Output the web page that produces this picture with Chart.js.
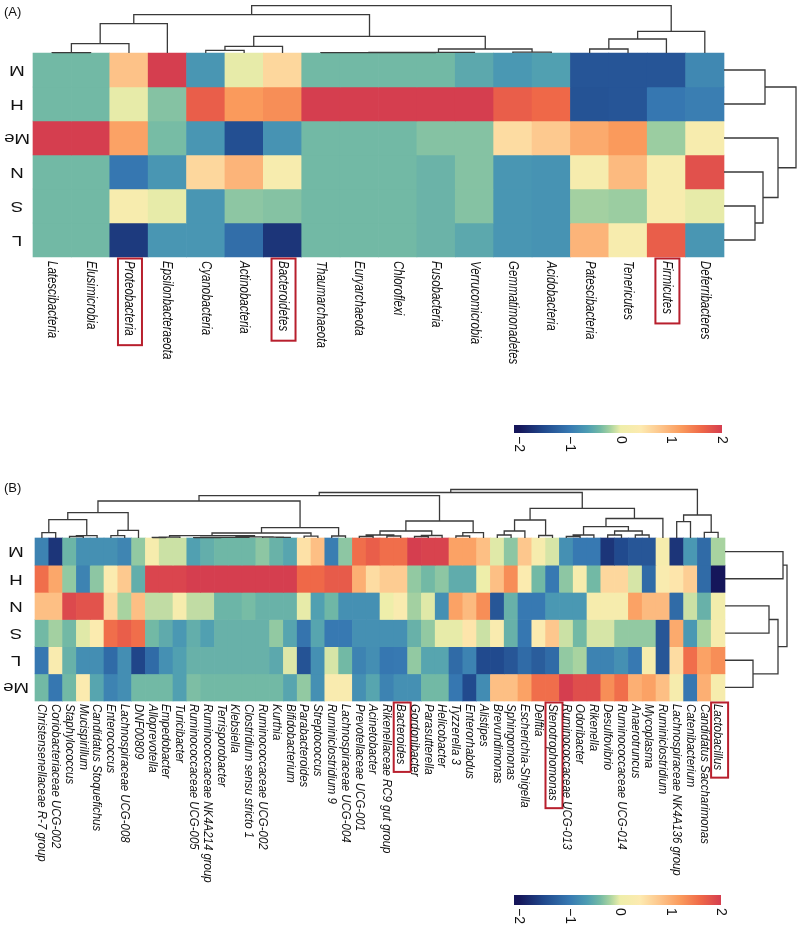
<!DOCTYPE html>
<html>
<head>
<meta charset="utf-8">
<script src="https://cdn.jsdelivr.net/npm/chart.js@4.4.0/dist/chart.umd.min.js"></script>
<style>
  body { margin: 0; background: #fff; width: 800px; height: 928px; overflow: hidden; }
  .panel { position: absolute; left: 0; width: 800px; }
</style>
</head>
<body>
<div class="panel" style="top:0"><canvas id="chartA" width="800" height="460"></canvas></div>
<div class="panel" style="top:460px"><canvas id="chartB" width="800" height="468"></canvas></div>
<script>
// ---- panel A : phylum level ----
var rowsA = ['M', 'H', 'Me', 'N', 'S', 'L'];
var phylaA = ['Latescibacteria', 'Elusimicrobia', 'Proteobacteria', 'Epsilonbacteraeota', 'Cyanobacteria',
  'Actinobacteria', 'Bacteroidetes', 'Thaumarchaeota', 'Euryarchaeota', 'Chloroflexi', 'Fusobacteria',
  'Verrucomicrobia', 'Gemmatimonadetes', 'Acidobacteria', 'Patescibacteria', 'Tenericutes', 'Firmicutes',
  'Deferribacteres'];
var aM  = [-0.4, -0.4, 0.82, 2.0, -0.72, -0.02, 0.6, -0.4, -0.4, -0.4, -0.4, -0.55, -0.7, -0.62, -1.38, -1.38, -1.38, -0.85];
var aH  = [-0.4, -0.4, -0.02, -0.33, 1.7, 1.2, 1.3, 2.0, 2.0, 2.0, 2.0, 2.0, 1.7, 1.6, -1.4, -1.38, -1.02, -0.95];
var aMe = [2.0, 2.0, 1.12, -0.38, -0.72, -1.45, -0.75, -0.4, -0.4, -0.4, -0.33, -0.33, 0.55, 0.75, 1.05, 1.2, -0.25, 0.25];
var aN  = [-0.4, -0.4, -1.02, -0.72, 0.6, 0.95, 0.25, -0.4, -0.4, -0.4, -0.45, -0.33, -0.72, -0.75, 0.2, 0.9, 0.25, 1.82];
var aS  = [-0.4, -0.4, 0.25, -0.02, -0.72, -0.3, -0.33, -0.4, -0.4, -0.4, -0.45, -0.33, -0.72, -0.75, -0.22, -0.25, 0.25, -0.02];
var aL  = [-0.4, -0.4, -1.65, -0.72, -0.72, -1.12, -1.7, -0.4, -0.4, -0.4, -0.45, -0.55, -0.72, -0.75, 0.95, 0.25, 1.7, -0.72];
var boxedA = ['Proteobacteria', 'Bacteroidetes', 'Firmicutes'];
// hclust style merges: negative = leaf (1-based, display order), positive = earlier merge; third = height
var colTreeA = [[-1, -2, 0.3], [-8, -9, 0.3], [2, -10, 0.4], [3, -11, 0.5], [4, -12, 0.6], [-13, -14, 0.8],
  [1, -3, 9.3], [-5, -6, 2.7], [8, -7, 6.7], [5, 6, 4], [-15, -16, 4], [11, -17, 14], [12, -18, 21.7],
  [9, 10, 16.7], [7, -4, 29.3], [15, 14, 38.3], [16, 13, 47.3]];
var rowTreeA = [[-5, -6, 31], [-4, 1, 39], [-1, -2, 41], [-3, 2, 54], [3, 4, 72]];

// ---- panel B : genus level ----
var rowsB = ['M', 'H', 'N', 'S', 'L', 'Me'];
var generaB = ['Christensenellaceae R-7 group', 'Coriobacteriaceae UCG-002', 'Staphylococcus', 'Mucispirillum',
  'Candidatus Stoquefichus', 'Enterococcus', 'Lachnospiraceae UCG-008', 'DNF00809', 'Alloprevotella',
  'Empedobacter', 'Turicibacter', 'Ruminococcaceae UCG-005', 'Ruminococcaceae NK4A214 group', 'Terrisporobacter',
  'Klebsiella', 'Clostridium sensu stricto 1', 'Ruminococcaceae UCG-002', 'Kurthia', 'Bifidobacterium',
  'Parabacteroides', 'Streptococcus', 'Ruminiclostridium 9', 'Lachnospiraceae UCG-004', 'Prevotellaceae UCG-001',
  'Acinetobacter', 'Rikenellaceae RC9 gut group', 'Bacteroides', 'Gordonibacter', 'Parasutterella', 'Helicobacter',
  'Tyzzerella 3', 'Enterorhabdus', 'Alistipes', 'Brevundimonas', 'Sphingomonas', 'Escherichia-Shigella', 'Delftia',
  'Stenotrophomonas', 'Ruminococcaceae UCG-013', 'Odoribacter', 'Rikenella', 'Desulfovibrio',
  'Ruminococcaceae UCG-014', 'Anaerotruncus', 'Mycoplasma', 'Ruminiclostridium', 'Lachnospiraceae NK4A136 group',
  'Catenibacterium', 'Candidatus Saccharimonas', 'Lactobacillus'];
var bM  = [-0.9, -1.7, -0.44, -0.78, -0.78, -0.78, -0.88, -0.28, 0.2, -0.1, -0.1, -0.62, -0.5, -0.42, -0.42, -0.42, -0.3,
  -0.46, -0.58, 0.5, 0.85, -0.95, -0.3, 1.55, 1.7, 1.55, 1.55, 2.0, 1.95, 1.95, 1.12, 1.12, 0.85, -0.04, -0.3, 0.77, 0.2,
  -0.07, -0.78, -1.0, -1.0, -1.7, -1.5, -1.37, -1.37, 0.2, -1.7, -0.7, -1.15, -0.2];
var bH  = [1.55, 1.08, -0.28, -0.9, -0.3, 0.35, 0.75, -0.5, 1.93, 1.93, 1.93, 2, 2, 2, 2, 2, 2, 2, 2, 1.6, 1.6, 1.72,
  1.72, 1.0, 0.55, 0.72, 0.72, -0.28, -0.4, -0.3, -0.52, -0.52, 0.0, 0.85, 1.3, 0.35, -0.4, -1.0, -0.3, 0.2, -0.4, 0.6,
  0.6, -0.07, -1.15, 0.3, 0.45, 0.7, -1.15, -2.0];
var bN  = [0.85, 0.85, 1.9, 1.8, 1.8, 0.6, -0.2, 0.85, -0.13, -0.13, 0.2, -0.13, -0.13, -0.44, -0.44, -0.38, -0.46,
  -0.46, -0.46, -0.02, -0.62, -0.42, -0.78, -0.78, -0.78, 0.0, 0.3, -0.22, -0.04, -0.78, 1.12, 0.9, 1.3, -1.37, -0.47,
  -1.0, -1.0, -0.7, -0.7, -0.7, 0.2, 0.2, 0.2, 1.12, 0.9, 0.9, -1.15, -0.1, -0.47, 0.1];
var bS  = [-0.4, -0.22, -0.4, -0.04, 0.35, 1.55, 1.7, 1.55, -0.4, -0.53, -0.7, -0.5, -0.62, -0.47, -0.47, -0.47, -0.47,
  -0.28, -0.58, -1.05, -0.58, -1.0, -1.0, -0.78, -0.78, -0.78, -0.78, -0.47, -0.28, -0.02, -0.02, 0.45, -0.1, 0.3,
  -0.47, -1.02, 0.35, 0.77, -0.1, -0.4, -0.07, -0.07, -0.28, -0.28, -0.28, -1.37, 1.05, -0.7, -0.2, 0.2];
var bL  = [-1.02, 0.3, -0.47, -0.8, -0.8, -1.15, -0.8, -1.55, -1.15, -0.78, -0.62, -0.47, -0.47, -0.47, -0.47, -0.47,
  -0.47, -0.55, -0.05, -1.4, -0.78, -0.07, -0.4, -0.9, -0.8, -1.02, -1.0, -0.28, -0.58, -0.58, -1.15, -0.9, -1.5, -1.5,
  -1.37, -1.15, -1.3, -1.15, -0.28, -0.2, -0.9, -0.9, -0.78, -1.0, 0.2, -1.37, 0.55, 1.55, 1.12, 1.3];
var bMe = [-0.4, -1.02, -0.4, 0.35, -0.58, -0.9, -0.8, -0.4, -0.4, -0.4, -0.62, -0.36, -0.4, -0.4, -0.4, -0.4, -0.4,
  -0.4, -0.58, -0.28, -0.78, 0.3, 0.3, -0.78, -0.58, -0.9, -0.78, -0.78, -0.4, -0.4, -1.02, -1.5, -0.82, 0.85, 0.85,
  1.12, 1.55, 1.55, 2.0, 1.85, 1.85, 1.3, 1.55, 1.0, 1.12, 0.85, 0.2, -1.02, 1.0, 0.2];
var boxedB = ['Bacteroides', 'Stenotrophomonas', 'Lactobacillus'];
var colTreeB = [[-1, -2, 5.3], [-3, -4, 1.5], [2, -5, 2.3], [1, 3, 18.3], [-6, -7, 2.3], [5, -8, 7.7], [4, 6, 25.3],
  [-9, -10, 0.5], [8, -11, 0.8], [-12, -13, 0.4], [10, -14, 0.5], [11, -15, 0.6], [12, -16, 0.7], [-18, -19, 0.6],
  [-17, 14, 0.9], [13, 15, 1.2], [9, 16, 2.3], [-20, -21, 1.8], [17, 18, 5], [-22, -23, 2], [19, 20, 10.3],
  [7, 21, 37], [-24, -25, 1.5], [-26, -27, 2], [23, 24, 3], [-28, -29, 1.5], [26, -30, 2.5], [25, 27, 7],
  [-31, -32, 2], [29, -33, 5.3], [28, 30, 17], [22, 31, 42.3], [-34, -35, 3], [33, -36, 7], [-37, -38, 2.5],
  [34, 35, 18], [-39, -40, 1.5], [37, -41, 3], [-42, -43, 3], [-44, -45, 3], [39, 40, 7], [38, 41, 11.3],
  [42, -46, 19.5], [36, 43, 29.7], [32, 44, 45.5], [-47, -48, 16.3], [-49, -50, 5.7], [46, 47, 23], [45, 48, 48.5]];
var rowTreeB = [[-5, -6, 28], [-3, -4, 44], [2, 1, 53], [-1, -2, 58], [4, 3, 62]];

// colour key
var keyTicks = [-2, -1, 0, 1, 2];
var keyStops = [[-2, '#15165a'], [-1.5, '#214a8e'], [-1, '#3779b2'], [-0.65, '#4d9db3'], [-0.4, '#72b9a5'],
  [-0.2, '#a8d3a0'], [0, '#eeeeaa'], [0.4, '#fdeab0'], [0.8, '#fdc48a'], [1.2, '#fa9a5c'], [1.6, '#ef6848'],
  [2, '#d53e4f']];

function hexRgb(h) {
  return [parseInt(h.substr(1, 2), 16), parseInt(h.substr(3, 2), 16), parseInt(h.substr(5, 2), 16)];
}
function colour(v) {
  if (v <= keyStops[0][0]) return keyStops[0][1];
  for (var i = 1; i < keyStops.length; i++) {
    if (v <= keyStops[i][0]) {
      var t = (v - keyStops[i - 1][0]) / (keyStops[i][0] - keyStops[i - 1][0]);
      var a = hexRgb(keyStops[i - 1][1]), b = hexRgb(keyStops[i][1]);
      return 'rgb(' + a.map(function (c, k) { return Math.round(c + (b[k] - c) * t); }).join(',') + ')';
    }
  }
  return keyStops[keyStops.length - 1][1];
}

// U shaped segments of a dendrogram, leaf k sits at position k-1
function treeSegments(merge) {
  var pos = [], ht = [], pts = [];
  merge.forEach(function (m, i) {
    var pa = m[0] < 0 ? -m[0] - 1 : pos[m[0] - 1], ha = m[0] < 0 ? 0 : ht[m[0] - 1];
    var pb = m[1] < 0 ? -m[1] - 1 : pos[m[1] - 1], hb = m[1] < 0 ? 0 : ht[m[1] - 1];
    pos[i] = (pa + pb) / 2;
    ht[i] = m[2];
    pts.push({ p: pa, h: ha }, { p: pa, h: m[2] }, { p: pb, h: m[2] }, { p: pb, h: hb }, null);
  });
  return pts;
}

var heatLabels = {
  id: 'heatLabels',
  afterDraw: function (chart, args, o) {
    var ctx = chart.ctx, x = chart.scales.x, y = chart.scales.y;
    ctx.save();
    ctx.fillStyle = '#111';
    ctx.font = '13px "Liberation Sans", Arial, sans-serif';
    ctx.textAlign = 'left';
    ctx.textBaseline = 'top';
    ctx.fillText(o.tag, o.tagX, o.tagY);

    // row names, upside down as in the figure
    ctx.font = '15px "Liberation Sans", Arial, sans-serif';
    o.rows.forEach(function (r, i) {
      ctx.save();
      ctx.translate(o.rowX, y.getPixelForValue(o.rows.length - i - 0.5));
      ctx.rotate(Math.PI);
      ctx.scale(1.25, 1);
      ctx.textAlign = 'center';
      ctx.textBaseline = 'middle';
      ctx.fillText(r, 0, 0);
      ctx.restore();
    });

    // taxon names read downward, condensed along the text
    var y0 = y.getPixelForValue(0);
    ctx.font = o.colFont;
    o.cols.forEach(function (c, i) {
      var px = x.getPixelForValue(i);
      ctx.save();
      ctx.translate(px, y0 + o.colGap);
      ctx.rotate(Math.PI / 2);
      ctx.scale(o.squeeze, 1);
      ctx.textAlign = 'left';
      ctx.textBaseline = 'middle';
      ctx.fillText(c, 0, 0);
      ctx.restore();
      if (o.boxed.indexOf(c) >= 0) {
        var w = ctx.measureText(c).width * o.squeeze;
        ctx.strokeStyle = '#b81f2d';
        ctx.lineWidth = 2;
        ctx.strokeRect(px - o.boxL, y0 + 1.5, o.boxL + o.boxR, o.colGap + w + o.boxPad);
      }
    });

    // colour key
    var k = o.key;
    var g = ctx.createLinearGradient(k.x0, 0, k.x1, 0);
    g.addColorStop(0, keyStops[0][1]);
    keyStops.forEach(function (s) { g.addColorStop((s[0] - k.min) / (k.max - k.min), s[1]); });
    ctx.fillStyle = g;
    ctx.fillRect(k.x0, k.y, k.x1 - k.x0, k.h);
    ctx.fillStyle = '#111';
    ctx.font = '14px "Liberation Sans", Arial, sans-serif';
    keyTicks.forEach(function (t) {
      var px = k.x0 + (t - k.min) / (k.max - k.min) * (k.x1 - k.x0);
      ctx.save();
      ctx.translate(px, k.y + k.h + 3);
      ctx.rotate(Math.PI / 2);
      ctx.textAlign = 'left';
      ctx.textBaseline = 'middle';
      ctx.fillText(t < 0 ? '\u2212' + (-t) : String(t), 0, 0);
      ctx.restore();
    });
    ctx.restore();
  }
};

function drawPanel(id, o) {
  var nR = o.rows.length, nC = o.cols.length;
  var pxC = (o.right - o.left) / nC, pxR = (o.bottom - o.top) / nR;
  var xmin = -0.5 - o.left / pxC, ymax = nR + o.top / pxR;
  var datasets = o.values.map(function (row, ri) {
    return {
      type: 'bar',
      data: row.map(function (v, ci) { return { x: ci, y: [nR - ri - 1, nR - ri] }; }),
      backgroundColor: row.map(colour),
      borderWidth: 0,
      grouped: false,
      barPercentage: 1,
      categoryPercentage: 1,
      order: 2
    };
  });
  var lineStyle = { type: 'line', borderColor: '#3a3a3a', borderWidth: 1.3, pointRadius: 0, spanGaps: false, fill: false, order: 1 };
  var colPts = treeSegments(o.colTree).map(function (p) {
    return p ? { x: p.p, y: nR + p.h / pxR } : { x: 0, y: null };
  });
  var rowPts = treeSegments(o.rowTree).map(function (p) {
    return p ? { x: nC - 0.5 + p.h / pxC, y: nR - p.p - 0.5 } : { x: 0, y: null };
  });
  datasets.push(Object.assign({ data: colPts }, lineStyle), Object.assign({ data: rowPts }, lineStyle));

  new Chart(document.getElementById(id), {
    type: 'bar',
    data: { datasets: datasets },
    options: {
      responsive: false,
      animation: false,
      layout: { padding: 0 },
      scales: {
        x: { type: 'linear', offset: false, min: xmin, max: xmin + o.W / pxC, display: false },
        y: { type: 'linear', min: ymax - o.H / pxR, max: ymax, display: false }
      },
      plugins: {
        legend: { display: false },
        tooltip: { enabled: false },
        heatLabels: o.labels
      }
    },
    plugins: [heatLabels]
  });
}

drawPanel('chartA', {
  W: 800, H: 460, left: 33, right: 724, top: 53, bottom: 257,
  rows: rowsA, cols: phylaA, values: [aM, aH, aMe, aN, aS, aL], colTree: colTreeA, rowTree: rowTreeA,
  labels: {
    tag: '(A)', tagX: 4, tagY: 6, rows: rowsA, rowX: 17, cols: phylaA, boxed: boxedA,
    colFont: 'italic 14px "Liberation Sans", Arial, sans-serif', squeeze: 0.82,
    colGap: 4, boxL: 11, boxR: 13, boxPad: 8,
    key: { x0: 514, x1: 722, y: 425, h: 8, min: -2.1, max: 2.0 }
  }
});

drawPanel('chartB', {
  W: 800, H: 468, left: 35, right: 725, top: 78, bottom: 241,
  rows: rowsB, cols: generaB, values: [bM, bH, bN, bS, bL, bMe], colTree: colTreeB, rowTree: rowTreeB,
  labels: {
    tag: '(B)', tagX: 4, tagY: 22, rows: rowsB, rowX: 16, cols: generaB, boxed: boxedB,
    colFont: 'italic 13px "Liberation Sans", Arial, sans-serif', squeeze: 0.88,
    colGap: 3, boxL: 7, boxR: 10, boxPad: 6,
    key: { x0: 514, x1: 721, y: 435, h: 10, min: -2.1, max: 2.0 }
  }
});
</script>
</body>
</html>
